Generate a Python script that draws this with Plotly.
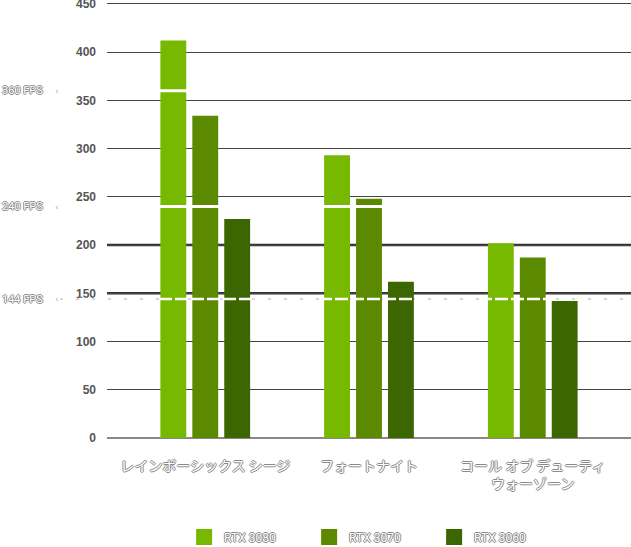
import plotly.graph_objects as go

games = ["レインボーシックス シージ", "フォートナイト", "コール オブ デューティ<br>ウォーゾーン"]
series_names = ["RTX 3080", "RTX 3070", "RTX 3060"]
rtx3080 = [412, 293, 202]
rtx3070 = [334, 248, 187]
rtx3060 = [227, 162, 142]
fps_targets = [360, 240, 144]
fps_labels = ["360 FPS", "240 FPS", "144 FPS"]
y_ticks = [0, 50, 100, 150, 200, 250, 300, 350, 400, 450]

colors = ["#76b900", "#5b8a00", "#3b6600"]
series = [rtx3080, rtx3070, rtx3060]

OUTLINE = "-1px 0 #8a8a8a, 1px 0 #8a8a8a, 0 -1px #8a8a8a, 0 1px #8a8a8a"

fig = go.Figure()
x_idx = list(range(len(games)))
for name, vals, c in zip(series_names, series, colors):
    fig.add_trace(go.Bar(x=x_idx, y=vals, name=name, marker=dict(color=c, line=dict(width=0)),
                         showlegend=False, hoverinfo="y"))
for name, c in zip(series_names, colors):
    fig.add_trace(go.Scatter(x=[None], y=[None], mode="markers", name=name,
                             marker=dict(symbol="square", size=16, color=c)))

W_PLOT = 524.0
shapes = []
for v in [150, 200]:
    shapes.append(dict(type="line", xref="paper", x0=0, x1=1, yref="y", y0=v, y1=v,
                       line=dict(color="#333", width=2.5), layer="below"))
for v in fps_targets[:2]:
    shapes.append(dict(type="line", xref="paper", x0=0, x1=1, yref="y", y0=v, y1=v,
                       line=dict(color="white", width=3), layer="above"))
gx0 = -47 / W_PLOT
v = fps_targets[2]
shapes.append(dict(type="line", xref="paper", x0=gx0, x1=1, yref="y", y0=v, y1=v,
                   line=dict(color="#c4c4c4", width=1.2, dash="3px,13px"), layer="below"))
shapes.append(dict(type="line", xref="paper", x0=gx0 + 3 / W_PLOT, x1=1, yref="y", y0=v, y1=v,
                   line=dict(color="white", width=2.5, dash="13px,3px"), layer="above"))

annotations = []
for v, t in zip(fps_targets, fps_labels):
    annotations.append(dict(xref="paper", x=-107 / W_PLOT, xanchor="left", yref="y", y=v,
                            yanchor="middle", text=t, showarrow=False,
                            font=dict(size=11, color="white", family="Roboto", shadow=OUTLINE)))
    annotations.append(dict(xref="paper", x=-50 / W_PLOT, xanchor="center", yref="y", y=v,
                            yanchor="middle", text="‹", showarrow=False,
                            font=dict(size=9, color="#aaa", family="DejaVu Sans")))

fig.update_layout(
    width=631, height=547,
    margin=dict(l=107, r=0, t=2, b=109, autoexpand=False),
    paper_bgcolor="white", plot_bgcolor="white",
    barmode="group", bargap=0.415, bargroupgap=0.19,
    xaxis=dict(range=[-0.6, 2.6], tickmode="array", tickvals=x_idx, ticktext=games,
               showgrid=False, zeroline=False, showline=False, ticks="", automargin=False,
               tickfont=dict(size=14, color="white", family="Noto Sans CJK JP", shadow=OUTLINE),
               ticklabelstandoff=18),
    yaxis=dict(range=[0, 452], tickmode="array", tickvals=y_ticks, showgrid=True,
               gridcolor="#444", gridwidth=1, zeroline=True, zerolinecolor="#888",
               zerolinewidth=1.5, ticks="", ticklabelstandoff=10, automargin=False,
               ticklabeloverflow="allow",
               tickfont=dict(size=12, color="#555", family="Liberation Sans", weight="bold")),
    legend=dict(orientation="h", x=0.505, xanchor="center", yref="container", y=10 / 547,
                yanchor="middle",
                font=dict(size=12, color="white", family="Roboto", shadow=OUTLINE),
                entrywidth=80, bgcolor="rgba(0,0,0,0)"),
    shapes=shapes, annotations=annotations,
    showlegend=True,
)

fig.write_html("out.html", config={"displayModeBar": False},
               post_script="document.body.style.margin='0';")
